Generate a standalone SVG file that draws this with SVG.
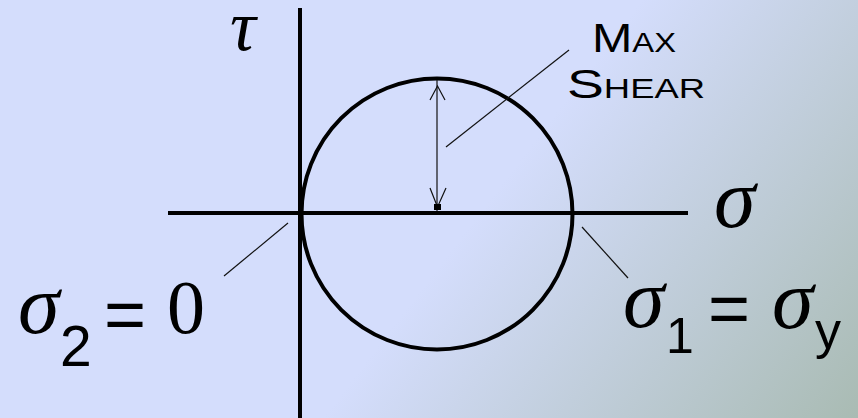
<svg xmlns="http://www.w3.org/2000/svg" width="858" height="418" viewBox="0 0 858 418">
<defs>
<linearGradient id="bg" gradientUnits="userSpaceOnUse" x1="520" y1="160" x2="858" y2="418">
<stop offset="0" stop-color="#d4ddfc"/>
<stop offset="1" stop-color="#a9bbb3"/>
</linearGradient>
<style>
.ax{stroke:#000;stroke-width:4;fill:none}
.thin{stroke:#111;stroke-width:1.2;fill:none}
.gr{font-family:"Liberation Serif","Times New Roman",serif;font-style:italic;fill:#000}
.sn{font-family:"Liberation Sans",Arial,sans-serif;fill:#000}
.sr{font-family:"Liberation Serif","Times New Roman",serif;fill:#000}
</style>
</defs>
<rect width="858" height="418" fill="url(#bg)"/>
<g id="axes">
<line class="ax" x1="300" y1="8" x2="300" y2="418"/>
<line class="ax" x1="168" y1="213" x2="688" y2="213"/>
</g>
<g id="circle">
<circle class="ax" cx="437" cy="214" r="135.5"/>
</g>
<g id="connectors">
<line class="thin" x1="437" y1="80" x2="437" y2="211" stroke-width="1.6"/>
<polyline class="thin" points="430,100 437.5,86 445,100" stroke-width="1.6"/>
<polyline class="thin" points="430,188 437.5,207 446,188" stroke-width="1.6"/>
<rect x="434" y="204" width="7" height="6" fill="#000"/>
<line class="thin" x1="569" y1="50" x2="446" y2="147"/>
<line class="thin" x1="288" y1="223" x2="224" y2="276"/>
<line class="thin" x1="582" y1="227" x2="628" y2="278"/>
</g>
<g id="label-tau">
<text class="gr" x="230" y="50" font-size="72">τ</text>
</g>
<g id="label-sigma">
<text class="gr" x="714" y="227" font-size="84">σ</text>
</g>
<g id="label-max-shear">
<text class="sn" x="592" y="52" textLength="84" lengthAdjust="spacingAndGlyphs"><tspan font-size="40">M</tspan><tspan font-size="27">AX</tspan></text>
<text class="sn" x="567" y="98" textLength="138" lengthAdjust="spacingAndGlyphs"><tspan font-size="41">S</tspan><tspan font-size="27">HEAR</tspan></text>
</g>
<g id="label-sigma2">
<text class="gr" x="18" y="333" font-size="84">σ</text>
<text class="sn" x="60" y="366" font-size="57">2</text>
<text class="sn" x="104" y="339" font-size="72">=</text>
<text class="sr" x="167" y="333" font-size="76">0</text>
</g>
<g id="label-sigma1">
<text class="gr" x="623" y="327" font-size="84">σ</text>
<text class="sn" x="666" y="353" font-size="50">1</text>
<text class="sn" x="708" y="333" font-size="72">=</text>
<text class="gr" x="772" y="328" font-size="84">σ</text>
<text class="sn" x="815" y="348" font-size="52">y</text>
</g>
</svg>
